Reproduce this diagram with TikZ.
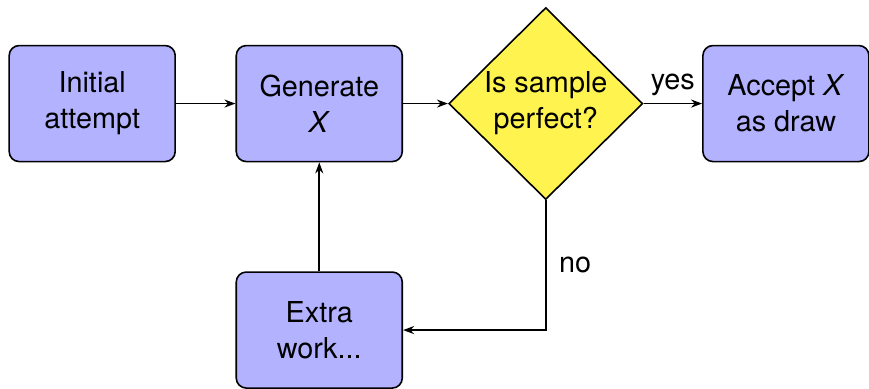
\documentclass[tikz,border=0pt]{standalone}
\usepackage{fontspec}
\setmainfont{TeX Gyre Heros}
\usepackage{xcolor}
\usepackage{tikz}
\usetikzlibrary{arrows.meta, shapes.geometric}
\definecolor{decide}{RGB}{255,243,80}
\tikzset{
  stepbox/.style={rectangle, rounded corners=5pt, thick, draw, fill=blue!30,
    minimum width=83pt, minimum height=58pt, align=center,
    font=\fontsize{14.4}{18}\selectfont},
  decision/.style={diamond, aspect=1, thick, draw, fill=decide, inner sep=0pt,
    minimum width=97pt, minimum height=96pt, align=center,
    font=\fontsize{14.4}{18}\selectfont},
  flow/.style={thick, -{Stealth[length=5.5pt, width=4pt]}}
}

\begin{document}
\begin{tikzpicture}
\useasboundingbox (0,0) rectangle (15.27,6.82);
\node[stepbox] (init) at (1.62,5.0) {Initial\\attempt};
\node[stepbox] (gen) at (5.61,5.0) {Generate\\\textit{X}};
\node[decision] (check) at (9.59,5.0) {Is sample\\perfect?};
\node[stepbox] (accept) at (13.81,5.0) {Accept \textit{X}\\as draw};
\node[stepbox] (extra) at (5.61,1.02) {Extra\\work...};
\draw[flow] (init) -- (gen);
\draw[flow] (gen) -- (check);
\draw[flow] (check) -- node[above, font=\fontsize{14.4}{18}\selectfont] {yes} (accept);
\draw[flow] (check.south) |- node[pos=0.25, right=3pt, font=\fontsize{14.4}{18}\selectfont] {no} (extra);
\draw[flow] (extra) -- (gen);
\end{tikzpicture}
\end{document}
